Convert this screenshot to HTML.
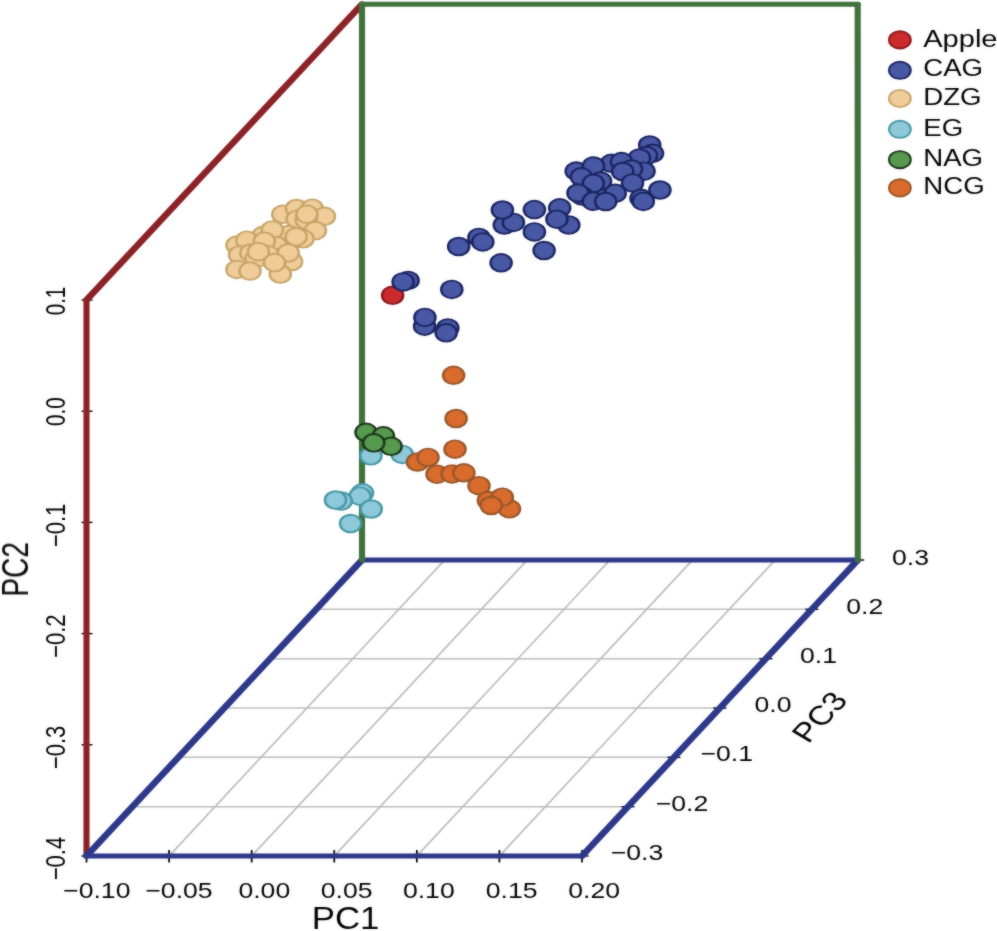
<!DOCTYPE html>
<html><head><meta charset="utf-8"><title>PCA 3D</title>
<style>html,body{margin:0;padding:0;background:#fff}svg{display:block}text{font-family:"Liberation Sans",sans-serif;fill:#000}</style>
</head><body>
<svg width="997" height="931" viewBox="0 0 997 931">
<rect width="997" height="931" fill="#fff"/>
<defs><filter id="bl" x="-2%" y="-2%" width="104%" height="104%" color-interpolation-filters="sRGB"><feGaussianBlur stdDeviation="0.85" result="b"/><feComposite in="b" in2="SourceGraphic" operator="arithmetic" k1="0" k2="0.42" k3="0.5800000000000001" k4="0"/></filter></defs>
<g filter="url(#bl)"><g transform="scale(1.25,1)">
<g stroke="#bbbbbb" stroke-width="1.45" fill="none">
<line x1="135.27" y1="856" x2="355.71" y2="560"/>
<line x1="201.33" y1="856" x2="421.81" y2="560"/>
<line x1="267.4" y1="856" x2="487.92" y2="560"/>
<line x1="333.47" y1="856" x2="554.03" y2="560"/>
<line x1="399.53" y1="856" x2="620.13" y2="560"/>
<line x1="105.93" y1="806.67" x2="502.37" y2="806.67"/>
<line x1="142.67" y1="757.33" x2="539.15" y2="757.33"/>
<line x1="179.4" y1="708.00" x2="575.92" y2="708.00"/>
<line x1="216.13" y1="658.67" x2="612.69" y2="658.67"/>
<line x1="252.87" y1="609.33" x2="649.47" y2="609.33"/>
</g>
<g stroke="#000" stroke-width="1.4" fill="none">
<line x1="69.2" y1="850" x2="69.2" y2="862.5"/>
<line x1="135.27" y1="850" x2="135.27" y2="862.5"/>
<line x1="201.33" y1="850" x2="201.33" y2="862.5"/>
<line x1="267.4" y1="850" x2="267.4" y2="862.5"/>
<line x1="333.47" y1="850" x2="333.47" y2="862.5"/>
<line x1="399.53" y1="850" x2="399.53" y2="862.5"/>
<line x1="465.6" y1="850" x2="465.6" y2="862.5"/>
<line x1="65.2" y1="300.00" x2="74.0" y2="300.00"/>
<line x1="65.2" y1="411.20" x2="74.0" y2="411.20"/>
<line x1="65.2" y1="522.40" x2="74.0" y2="522.40"/>
<line x1="65.2" y1="633.60" x2="74.0" y2="633.60"/>
<line x1="65.2" y1="744.80" x2="74.0" y2="744.80"/>
<line x1="65.2" y1="856.00" x2="74.0" y2="856.00"/>
<line x1="460.4" y1="856.00" x2="470.8" y2="856.00"/>
<line x1="497.17" y1="806.67" x2="507.57" y2="806.67"/>
<line x1="533.95" y1="757.33" x2="544.35" y2="757.33"/>
<line x1="570.72" y1="708.00" x2="581.12" y2="708.00"/>
<line x1="607.49" y1="658.67" x2="617.89" y2="658.67"/>
<line x1="644.27" y1="609.33" x2="654.67" y2="609.33"/>
<line x1="681.04" y1="560.00" x2="691.44" y2="560.00"/>
</g>
<line x1="69.2" y1="856" x2="69.2" y2="300" stroke="#8a2126" stroke-width="4.9" stroke-linecap="round"/>
<line x1="69.2" y1="300" x2="289.6" y2="4.3" stroke="#8a2126" stroke-width="5.7" stroke-linecap="round"/>
<line x1="69.2" y1="856" x2="465.6" y2="856" stroke="#2c3789" stroke-width="5.1" stroke-linecap="round"/>
<line x1="289.6" y1="560" x2="686.24" y2="560" stroke="#2c3789" stroke-width="5.1" stroke-linecap="round"/>
<line x1="69.2" y1="856" x2="289.6" y2="560" stroke="#2c3789" stroke-width="5.7" stroke-linecap="round"/>
<line x1="465.6" y1="856" x2="686.24" y2="560" stroke="#2c3789" stroke-width="5.7" stroke-linecap="round"/>
<line x1="289.6" y1="560" x2="289.6" y2="4.3" stroke="#3f713c" stroke-width="4.9" stroke-linecap="round"/>
<line x1="289.6" y1="4.3" x2="686.16" y2="4.3" stroke="#3f713c" stroke-width="5.1" stroke-linecap="round"/>
<line x1="686.16" y1="4.3" x2="686.24" y2="560" stroke="#3f713c" stroke-width="4.9" stroke-linecap="round"/>
<g stroke-width="1.9">
<ellipse cx="226.24" cy="214.3" rx="8.48" ry="8.8" fill="#f0cc99" stroke="#c5a467"/>
<ellipse cx="237.2" cy="208.5" rx="8.48" ry="8.8" fill="#f0cc99" stroke="#c5a467"/>
<ellipse cx="249.68" cy="208.2" rx="8.48" ry="8.8" fill="#f0cc99" stroke="#c5a467"/>
<ellipse cx="259.6" cy="216.3" rx="8.48" ry="8.8" fill="#f0cc99" stroke="#c5a467"/>
<ellipse cx="237.68" cy="219.2" rx="8.48" ry="8.8" fill="#f0cc99" stroke="#c5a467"/>
<ellipse cx="245.04" cy="220.2" rx="8.48" ry="8.8" fill="#f0cc99" stroke="#c5a467"/>
<ellipse cx="245.52" cy="214.3" rx="8.48" ry="8.8" fill="#f0cc99" stroke="#c5a467"/>
<ellipse cx="252.32" cy="230.6" rx="8.48" ry="8.8" fill="#f0cc99" stroke="#c5a467"/>
<ellipse cx="230.96" cy="234.5" rx="8.48" ry="8.8" fill="#f0cc99" stroke="#c5a467"/>
<ellipse cx="240.4" cy="238.0" rx="8.48" ry="8.8" fill="#f0cc99" stroke="#c5a467"/>
<ellipse cx="242.4" cy="238.8" rx="8.48" ry="8.8" fill="#f0cc99" stroke="#c5a467"/>
<ellipse cx="236.88" cy="236.8" rx="8.48" ry="8.8" fill="#f0cc99" stroke="#c5a467"/>
<ellipse cx="210.64" cy="235.3" rx="8.48" ry="8.8" fill="#f0cc99" stroke="#c5a467"/>
<ellipse cx="217.84" cy="229.9" rx="8.48" ry="8.8" fill="#f0cc99" stroke="#c5a467"/>
<ellipse cx="189.6" cy="245.1" rx="8.48" ry="8.8" fill="#f0cc99" stroke="#c5a467"/>
<ellipse cx="197.52" cy="240.2" rx="8.48" ry="8.8" fill="#f0cc99" stroke="#c5a467"/>
<ellipse cx="220.96" cy="245.5" rx="8.48" ry="8.8" fill="#f0cc99" stroke="#c5a467"/>
<ellipse cx="211.44" cy="241.2" rx="8.48" ry="8.8" fill="#f0cc99" stroke="#c5a467"/>
<ellipse cx="191.68" cy="254.9" rx="8.48" ry="8.8" fill="#f0cc99" stroke="#c5a467"/>
<ellipse cx="200.72" cy="253.0" rx="8.48" ry="8.8" fill="#f0cc99" stroke="#c5a467"/>
<ellipse cx="214.88" cy="254.9" rx="8.48" ry="8.8" fill="#f0cc99" stroke="#c5a467"/>
<ellipse cx="204.88" cy="258.7" rx="8.48" ry="8.8" fill="#f0cc99" stroke="#c5a467"/>
<ellipse cx="206.72" cy="251.7" rx="8.48" ry="8.8" fill="#f0cc99" stroke="#c5a467"/>
<ellipse cx="233.28" cy="261.5" rx="8.48" ry="8.8" fill="#f0cc99" stroke="#c5a467"/>
<ellipse cx="230.56" cy="252.8" rx="8.48" ry="8.8" fill="#f0cc99" stroke="#c5a467"/>
<ellipse cx="189.6" cy="269.4" rx="8.48" ry="8.8" fill="#f0cc99" stroke="#c5a467"/>
<ellipse cx="224.24" cy="274.0" rx="8.48" ry="8.8" fill="#f0cc99" stroke="#c5a467"/>
<ellipse cx="219.68" cy="262.6" rx="8.48" ry="8.8" fill="#f0cc99" stroke="#c5a467"/>
<ellipse cx="200.0" cy="271.1" rx="8.48" ry="8.8" fill="#f0cc99" stroke="#c5a467"/>
<ellipse cx="519.76" cy="145.0" rx="8.48" ry="8.8" fill="#4858a5" stroke="#1a2360"/>
<ellipse cx="522.0" cy="153.3" rx="8.48" ry="8.8" fill="#4858a5" stroke="#1a2360"/>
<ellipse cx="517.2" cy="155.6" rx="8.48" ry="8.8" fill="#4858a5" stroke="#1a2360"/>
<ellipse cx="511.6" cy="157.9" rx="8.48" ry="8.8" fill="#4858a5" stroke="#1a2360"/>
<ellipse cx="515.2" cy="171.2" rx="8.48" ry="8.8" fill="#4858a5" stroke="#1a2360"/>
<ellipse cx="489.2" cy="163.3" rx="8.48" ry="8.8" fill="#4858a5" stroke="#1a2360"/>
<ellipse cx="497.2" cy="161.6" rx="8.48" ry="8.8" fill="#4858a5" stroke="#1a2360"/>
<ellipse cx="505.2" cy="169.0" rx="8.48" ry="8.8" fill="#4858a5" stroke="#1a2360"/>
<ellipse cx="498.16" cy="171.5" rx="8.48" ry="8.8" fill="#4858a5" stroke="#1a2360"/>
<ellipse cx="506.0" cy="182.9" rx="8.48" ry="8.8" fill="#4858a5" stroke="#1a2360"/>
<ellipse cx="527.92" cy="190.0" rx="8.48" ry="8.8" fill="#4858a5" stroke="#1a2360"/>
<ellipse cx="512.8" cy="198.3" rx="8.48" ry="8.8" fill="#4858a5" stroke="#1a2360"/>
<ellipse cx="514.64" cy="201.4" rx="8.48" ry="8.8" fill="#4858a5" stroke="#1a2360"/>
<ellipse cx="460.96" cy="171.1" rx="8.48" ry="8.8" fill="#4858a5" stroke="#1a2360"/>
<ellipse cx="474.8" cy="166.0" rx="8.48" ry="8.8" fill="#4858a5" stroke="#1a2360"/>
<ellipse cx="465.12" cy="176.8" rx="8.48" ry="8.8" fill="#4858a5" stroke="#1a2360"/>
<ellipse cx="479.2" cy="190.0" rx="8.48" ry="8.8" fill="#4858a5" stroke="#1a2360"/>
<ellipse cx="480.48" cy="181.1" rx="8.48" ry="8.8" fill="#4858a5" stroke="#1a2360"/>
<ellipse cx="474.64" cy="183.4" rx="8.48" ry="8.8" fill="#4858a5" stroke="#1a2360"/>
<ellipse cx="465.84" cy="196.0" rx="8.48" ry="8.8" fill="#4858a5" stroke="#1a2360"/>
<ellipse cx="462.4" cy="193.0" rx="8.48" ry="8.8" fill="#4858a5" stroke="#1a2360"/>
<ellipse cx="474.64" cy="201.2" rx="8.48" ry="8.8" fill="#4858a5" stroke="#1a2360"/>
<ellipse cx="492.16" cy="193.3" rx="8.48" ry="8.8" fill="#4858a5" stroke="#1a2360"/>
<ellipse cx="484.56" cy="201.5" rx="8.48" ry="8.8" fill="#4858a5" stroke="#1a2360"/>
<ellipse cx="447.76" cy="207.8" rx="8.48" ry="8.8" fill="#4858a5" stroke="#1a2360"/>
<ellipse cx="455.04" cy="225.0" rx="8.48" ry="8.8" fill="#4858a5" stroke="#1a2360"/>
<ellipse cx="445.52" cy="219.2" rx="8.48" ry="8.8" fill="#4858a5" stroke="#1a2360"/>
<ellipse cx="427.52" cy="209.6" rx="8.48" ry="8.8" fill="#4858a5" stroke="#1a2360"/>
<ellipse cx="427.52" cy="231.9" rx="8.48" ry="8.8" fill="#4858a5" stroke="#1a2360"/>
<ellipse cx="435.28" cy="250.5" rx="8.48" ry="8.8" fill="#4858a5" stroke="#1a2360"/>
<ellipse cx="403.44" cy="225.0" rx="8.48" ry="8.8" fill="#4858a5" stroke="#1a2360"/>
<ellipse cx="410.72" cy="222.4" rx="8.48" ry="8.8" fill="#4858a5" stroke="#1a2360"/>
<ellipse cx="401.92" cy="210.0" rx="8.48" ry="8.8" fill="#4858a5" stroke="#1a2360"/>
<ellipse cx="383.12" cy="237.4" rx="8.48" ry="8.8" fill="#4858a5" stroke="#1a2360"/>
<ellipse cx="386.24" cy="241.9" rx="8.48" ry="8.8" fill="#4858a5" stroke="#1a2360"/>
<ellipse cx="366.96" cy="246.5" rx="8.48" ry="8.8" fill="#4858a5" stroke="#1a2360"/>
<ellipse cx="400.88" cy="262.8" rx="8.48" ry="8.8" fill="#4858a5" stroke="#1a2360"/>
<ellipse cx="361.44" cy="289.4" rx="8.48" ry="8.8" fill="#4858a5" stroke="#1a2360"/>
<ellipse cx="326.48" cy="280.4" rx="8.48" ry="8.8" fill="#4858a5" stroke="#1a2360"/>
<ellipse cx="314.08" cy="295.3" rx="8.48" ry="8.8" fill="#cb2b2d" stroke="#88161a"/>
<ellipse cx="322.48" cy="281.9" rx="8.48" ry="8.8" fill="#4858a5" stroke="#1a2360"/>
<ellipse cx="339.68" cy="326.2" rx="8.48" ry="8.8" fill="#4858a5" stroke="#1a2360"/>
<ellipse cx="339.92" cy="317.4" rx="8.48" ry="8.8" fill="#4858a5" stroke="#1a2360"/>
<ellipse cx="358.24" cy="327.9" rx="8.48" ry="8.8" fill="#4858a5" stroke="#1a2360"/>
<ellipse cx="356.96" cy="332.8" rx="8.48" ry="8.8" fill="#4858a5" stroke="#1a2360"/>
<ellipse cx="296.72" cy="455.8" rx="8.48" ry="8.8" fill="#8dc9da" stroke="#4596a3"/>
<ellipse cx="321.84" cy="454.4" rx="8.48" ry="8.8" fill="#8dc9da" stroke="#4596a3"/>
<ellipse cx="290.0" cy="492.8" rx="8.48" ry="8.8" fill="#8dc9da" stroke="#4596a3"/>
<ellipse cx="288.0" cy="496.2" rx="8.48" ry="8.8" fill="#8dc9da" stroke="#4596a3"/>
<ellipse cx="272.96" cy="501.0" rx="8.48" ry="8.8" fill="#8dc9da" stroke="#4596a3"/>
<ellipse cx="268.4" cy="500.0" rx="8.48" ry="8.8" fill="#8dc9da" stroke="#4596a3"/>
<ellipse cx="296.96" cy="509.0" rx="8.48" ry="8.8" fill="#8dc9da" stroke="#4596a3"/>
<ellipse cx="280.48" cy="523.5" rx="8.48" ry="8.8" fill="#8dc9da" stroke="#4596a3"/>
<ellipse cx="292.8" cy="432.3" rx="8.48" ry="8.8" fill="#56994f" stroke="#1a3417"/>
<ellipse cx="306.72" cy="435.8" rx="8.48" ry="8.8" fill="#56994f" stroke="#1a3417"/>
<ellipse cx="312.88" cy="446.3" rx="8.48" ry="8.8" fill="#56994f" stroke="#1a3417"/>
<ellipse cx="298.96" cy="442.8" rx="8.48" ry="8.8" fill="#56994f" stroke="#1a3417"/>
<ellipse cx="362.88" cy="375.3" rx="8.48" ry="8.8" fill="#d96b2c" stroke="#96562a"/>
<ellipse cx="364.88" cy="418.5" rx="8.48" ry="8.8" fill="#d96b2c" stroke="#96562a"/>
<ellipse cx="364.0" cy="449.2" rx="8.48" ry="8.8" fill="#d96b2c" stroke="#96562a"/>
<ellipse cx="334.0" cy="462.0" rx="8.48" ry="8.8" fill="#d96b2c" stroke="#96562a"/>
<ellipse cx="342.4" cy="457.4" rx="8.48" ry="8.8" fill="#d96b2c" stroke="#96562a"/>
<ellipse cx="349.6" cy="474.2" rx="8.48" ry="8.8" fill="#d96b2c" stroke="#96562a"/>
<ellipse cx="361.76" cy="473.9" rx="8.48" ry="8.8" fill="#d96b2c" stroke="#96562a"/>
<ellipse cx="371.12" cy="472.8" rx="8.48" ry="8.8" fill="#d96b2c" stroke="#96562a"/>
<ellipse cx="383.2" cy="485.7" rx="8.48" ry="8.8" fill="#d96b2c" stroke="#96562a"/>
<ellipse cx="390.72" cy="500.5" rx="8.48" ry="8.8" fill="#d96b2c" stroke="#96562a"/>
<ellipse cx="407.6" cy="508.8" rx="8.48" ry="8.8" fill="#d96b2c" stroke="#96562a"/>
<ellipse cx="401.84" cy="497.2" rx="8.48" ry="8.8" fill="#d96b2c" stroke="#96562a"/>
<ellipse cx="392.96" cy="505.5" rx="8.48" ry="8.8" fill="#d96b2c" stroke="#96562a"/>
</g>
</g>
<ellipse cx="899.9" cy="39.9" rx="10.9" ry="8.6" fill="#cb2b2d" stroke="#88161a" stroke-width="1.9"/>
<text transform="translate(923.20,46.60) scale(1.2054,1.0000)" font-size="24.1" text-anchor="start">Apple</text>
<ellipse cx="899.9" cy="70.3" rx="10.9" ry="8.6" fill="#4858a5" stroke="#1a2360" stroke-width="1.9"/>
<text transform="translate(923.20,76.40) scale(1.1480,1.0000)" font-size="24.1" text-anchor="start">CAG</text>
<ellipse cx="899.9" cy="98.5" rx="10.9" ry="8.6" fill="#f0cc99" stroke="#c5a467" stroke-width="1.9"/>
<text transform="translate(923.20,105.20) scale(1.1480,1.0000)" font-size="24.1" text-anchor="start">DZG</text>
<ellipse cx="899.9" cy="129.3" rx="10.9" ry="8.6" fill="#8dc9da" stroke="#4596a3" stroke-width="1.9"/>
<text transform="translate(923.20,135.60) scale(1.1480,1.0000)" font-size="24.1" text-anchor="start">EG</text>
<ellipse cx="899.9" cy="159.7" rx="10.9" ry="8.6" fill="#56994f" stroke="#1a3417" stroke-width="1.9"/>
<text transform="translate(923.20,165.80) scale(1.1480,1.0000)" font-size="24.1" text-anchor="start">NAG</text>
<ellipse cx="899.9" cy="187.9" rx="10.9" ry="8.6" fill="#d96b2c" stroke="#96562a" stroke-width="1.9"/>
<text transform="translate(923.20,193.60) scale(1.1480,1.0000)" font-size="24.1" text-anchor="start">NCG</text>
<text transform="translate(96.80,897.50) scale(1.1940,1.0000)" font-size="22.3" text-anchor="middle">−0.10</text>
<text transform="translate(179.00,897.50) scale(1.1940,1.0000)" font-size="22.3" text-anchor="middle">−0.05</text>
<text transform="translate(264.30,897.50) scale(1.1940,1.0000)" font-size="22.3" text-anchor="middle">0.00</text>
<text transform="translate(346.60,897.50) scale(1.1940,1.0000)" font-size="22.3" text-anchor="middle">0.05</text>
<text transform="translate(428.80,897.50) scale(1.1940,1.0000)" font-size="22.3" text-anchor="middle">0.10</text>
<text transform="translate(511.60,897.50) scale(1.1940,1.0000)" font-size="22.3" text-anchor="middle">0.15</text>
<text transform="translate(594.10,897.50) scale(1.1940,1.0000)" font-size="22.3" text-anchor="middle">0.20</text>
<text transform="translate(345.60,928.50) scale(1.1400,1.0000)" font-size="30.5" text-anchor="middle">PC1</text>
<text transform="translate(64.80,301.00) rotate(-90) scale(1.0000,1.3444)" font-size="20.6" text-anchor="middle">0.1</text>
<text transform="translate(64.80,411.70) rotate(-90) scale(1.0000,1.3444)" font-size="20.6" text-anchor="middle">0.0</text>
<text transform="translate(64.80,525.40) rotate(-90) scale(1.0000,1.2560)" font-size="22.05" text-anchor="middle">−0.1</text>
<text transform="translate(64.80,636.20) rotate(-90) scale(1.0000,1.2560)" font-size="22.05" text-anchor="middle">−0.2</text>
<text transform="translate(64.80,747.40) rotate(-90) scale(1.0000,1.2560)" font-size="22.05" text-anchor="middle">−0.3</text>
<text transform="translate(64.80,858.60) rotate(-90) scale(1.0000,1.2560)" font-size="22.05" text-anchor="middle">−0.4</text>
<text transform="translate(28.30,569.40) rotate(-90) scale(1.0000,1.2850)" font-size="28.1" text-anchor="middle">PC2</text>
<text transform="translate(637.00,859.50) scale(1.1940,1.0000)" font-size="22.3" text-anchor="middle">−0.3</text>
<text transform="translate(682.00,811.00) scale(1.1940,1.0000)" font-size="22.3" text-anchor="middle">−0.2</text>
<text transform="translate(726.70,761.20) scale(1.1940,1.0000)" font-size="22.3" text-anchor="middle">−0.1</text>
<text transform="translate(773.00,712.00) scale(1.1940,1.0000)" font-size="22.3" text-anchor="middle">0.0</text>
<text transform="translate(818.50,663.00) scale(1.1940,1.0000)" font-size="22.3" text-anchor="middle">0.1</text>
<text transform="translate(864.70,613.50) scale(1.1940,1.0000)" font-size="22.3" text-anchor="middle">0.2</text>
<text transform="translate(910.50,564.50) scale(1.1940,1.0000)" font-size="22.3" text-anchor="middle">0.3</text>
<text transform="translate(828.60,722.30) scale(1.25,1) rotate(-53.3) scale(1.06,1.0)" font-size="26.5" text-anchor="middle">PC3</text>
</g></svg></body></html>
